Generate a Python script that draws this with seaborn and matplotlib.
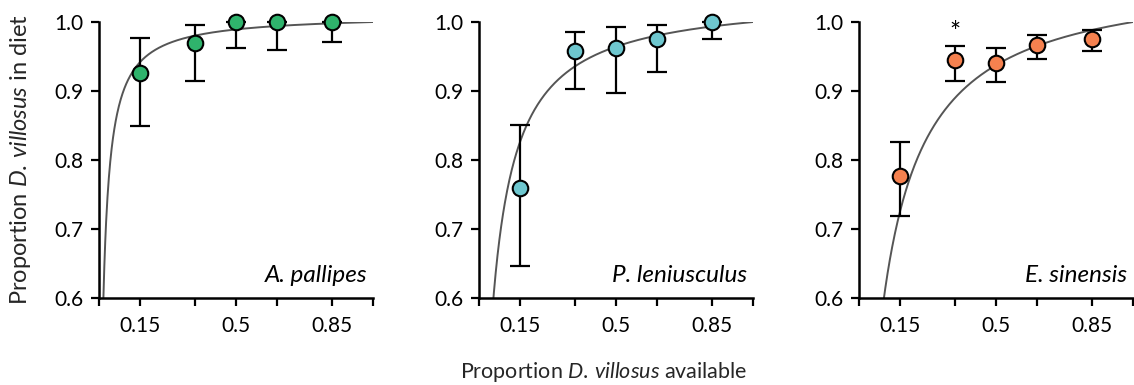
import numpy as np
import pandas as pd
import matplotlib
matplotlib.use("Agg")
import matplotlib.pyplot as plt
import seaborn as sns

# ---- data ----
species = ["A. pallipes", "P. leniusculus", "E. sinensis"]
colors = ["#2fb36c", "#6ec7cf", "#f5814f"]
x_avail = [0.15, 0.35, 0.5, 0.65, 0.85]
mean_pallipes = [0.926, 0.969, 1.0, 1.0, 1.0]
low_pallipes = [0.849, 0.914, 0.962, 0.959, 0.971]
high_pallipes = [0.977, 0.996, 1.0, 1.0, 1.0]
mean_lenius = [0.759, 0.958, 0.963, 0.975, 1.0]
low_lenius = [0.646, 0.903, 0.897, 0.928, 0.976]
high_lenius = [0.851, 0.986, 0.993, 0.995, 1.0]
mean_sinensis = [0.777, 0.945, 0.940, 0.967, 0.976]
low_sinensis = [0.719, 0.915, 0.913, 0.947, 0.958]
high_sinensis = [0.826, 0.965, 0.963, 0.981, 0.988]
# fitted preference (Manly alpha ratio) for each curve
alpha_fit = [92.0, 27.0, 15.0]
y_ticks = [0.6, 0.7, 0.8, 0.9, 1.0]
x_ticks = [0.0, 0.15, 0.35, 0.5, 0.65, 0.85, 1.0]
x_ticklabels = ["", "0.15", "", "0.5", "", "0.85", ""]

means = [mean_pallipes, mean_lenius, mean_sinensis]
lows = [low_pallipes, low_lenius, low_sinensis]
highs = [high_pallipes, high_lenius, high_sinensis]

sns.set_theme(style="ticks")
plt.rcParams["font.family"] = ["Lato", "DejaVu Sans"]
plt.rcParams["mathtext.fontset"] = "custom"
plt.rcParams["mathtext.rm"] = "Lato"
plt.rcParams["mathtext.it"] = "Lato:italic"

fig = plt.figure(figsize=(11.34, 3.85), dpi=100)
lefts = [99 / 1134, 479 / 1134, 859 / 1134]
for i in range(3):
    ax = fig.add_axes([lefts[i], 87 / 385, 274 / 1134, 276 / 385])
    xc = np.linspace(0.001, 1.0, 600)
    a = alpha_fit[i]
    yc = a * xc / (a * xc + 1 - xc)
    sns.lineplot(x=xc, y=yc, ax=ax, color="#555555", lw=1.4, zorder=2)
    m = np.array(means[i]); lo = np.array(lows[i]); hi = np.array(highs[i])
    ax.errorbar(x_avail, m, yerr=[m - lo, hi - m], fmt="none", ecolor="black",
                elinewidth=1.6, capsize=7, capthick=1.6, zorder=3, clip_on=False)
    df = pd.DataFrame({"x": x_avail, "y": m})
    sns.scatterplot(data=df, x="x", y="y", ax=ax, s=125, color=colors[i],
                    edgecolor="black", linewidth=1.5, zorder=4, clip_on=False)
    ax.set_xlim(0, 1.0)
    ax.set_ylim(0.6, 1.0)
    ax.set_xticks(x_ticks)
    ax.set_xticklabels(x_ticklabels)
    ax.set_yticks(y_ticks)
    ax.set_yticklabels([f"{v:.1f}" for v in y_ticks])
    ax.tick_params(axis="both", direction="out", length=6, width=1.6,
                   labelsize=15, color="black", labelcolor="black", pad=5)
    ax.tick_params(axis="x", pad=7)
    for s in ["left", "bottom"]:
        ax.spines[s].set_linewidth(1.8)
        ax.spines[s].set_color("black")
    sns.despine(ax=ax)
    ax.set_xlabel("")
    ax.set_ylabel("")
    ax.text(0.978, 0.632, species[i], style="italic", fontsize=17.5,
            ha="right", va="center", color="black")
    if i == 0:
        ax.set_ylabel(r"Proportion $\mathit{D.\,villosus}$ in diet",
                      fontsize=17)
        ax.yaxis.set_label_coords(-0.24, 0.5)
    if i == 2:
        ax.text(0.35, 0.984, "*", fontsize=19, ha="center", va="center",
                color="black")

fig.text(0.532, 0.034, r"Proportion $\mathit{D.\,villosus}$ available",
         fontsize=15.5, ha="center", va="center")

fig.savefig("out.png", dpi=100)
